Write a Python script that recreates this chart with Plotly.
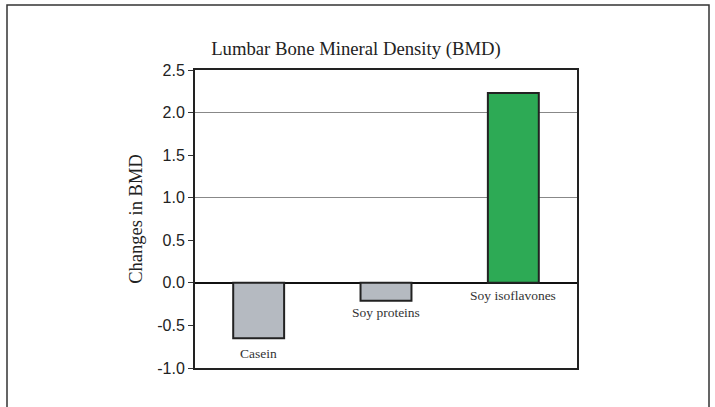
import plotly.graph_objects as go

categories = ["Casein", "Soy proteins", "Soy isoflavones"]
values = [-0.65, -0.21, 2.23]
colors = ["#B5BAC1", "#B5BAC1", "#2DAA55"]
label_y = [-0.83, -0.35, -0.15]
tick_vals = [-1.0, -0.5, 0.0, 0.5, 1.0, 1.5, 2.0, 2.5]
tick_text = ["-1.0", "-0.5", "0.0", "0.5", "1.0", "1.5", "2.0", "2.5"]
title = "Lumbar Bone Mineral Density (BMD)"
ytitle = "Changes in BMD"

serif = "Liberation Serif, Times New Roman, serif"
sans = "Liberation Sans, Arial, sans-serif"

fig = go.Figure()
fig.add_trace(go.Bar(
    x=categories, y=values, width=0.4,
    marker=dict(color=colors, line=dict(color="#222222", width=2)),
    showlegend=False, hoverinfo="skip"))
# invisible trace on yaxis2 for gridlines at integer steps
fig.add_trace(go.Scatter(x=categories, y=values, yaxis="y2", mode="markers",
                         marker=dict(opacity=0), showlegend=False, hoverinfo="skip"))

for c, ly in zip(categories, label_y):
    fig.add_annotation(x=c, y=ly, text=c, showarrow=False,
                       font=dict(family=serif, size=13.5, color="#333333"))

fig.update_layout(
    width=715, height=407,
    margin=dict(l=195, r=138, t=70, b=39),
    paper_bgcolor="white", plot_bgcolor="white",
    title=dict(text=title, x=356 / 715, xanchor="center", y=1 - 48 / 407, yanchor="middle",
               font=dict(family=serif, size=18.7, color="#222222")),
    xaxis=dict(showticklabels=False, ticks="", showgrid=False, zeroline=False,
               showline=True, linecolor="#222222", linewidth=2, mirror=True),
    yaxis=dict(range=[-1, 2.5], tickvals=tick_vals, ticktext=tick_text, showgrid=False,
               zeroline=True, zerolinecolor="#111111", zerolinewidth=2,
               ticks="outside", ticklen=5, tickcolor="#333333",
               tickfont=dict(family=sans, size=16, color="#222222"),
               showline=True, linecolor="#222222", linewidth=2, mirror=True,
               title=dict(text=ytitle, font=dict(family=serif, size=18.5, color="#222222"), standoff=10)),
    yaxis2=dict(range=[-1, 2.5], dtick=1, overlaying="y", showgrid=True,
                gridcolor="#888888", gridwidth=1, showticklabels=False,
                zeroline=False, showline=False),
)

# outer frame
fig.add_shape(type="rect", xref="paper", yref="paper",
              x0=(7 - 195) / 382, x1=(709 - 195) / 382,
              y0=(368 - 415) / 298, y1=(368 - 5) / 298,
              line=dict(color="#333333", width=1.5), layer="below")

fig.write_html("out.html", config={"displayModeBar": False},
               post_script="document.body.style.margin='0';")
